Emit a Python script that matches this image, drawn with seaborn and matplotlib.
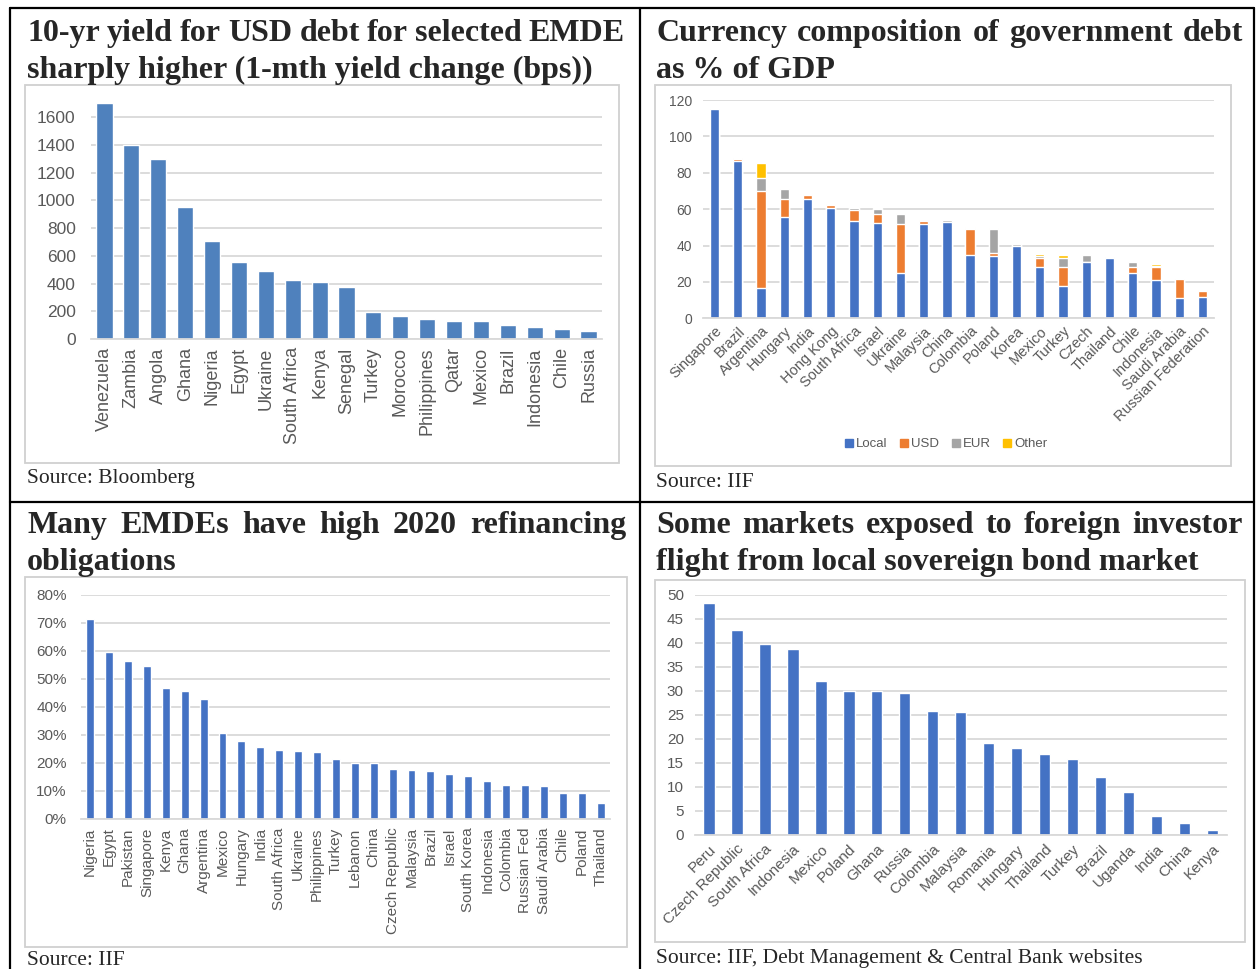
import numpy as np
import pandas as pd
import matplotlib
matplotlib.use("Agg")
import matplotlib.pyplot as plt
from matplotlib.patches import Rectangle
from matplotlib.lines import Line2D
import seaborn as sns

# ---------------- data ----------------
yield_countries = ["Venezuela", "Zambia", "Angola", "Ghana", "Nigeria", "Egypt", "Ukraine",
                   "South Africa", "Kenya", "Senegal", "Turkey", "Morocco", "Philippines",
                   "Qatar", "Mexico", "Brazil", "Indonesia", "Chile", "Russia"]
yield_change_bps = [1700, 1400, 1300, 955, 710, 555, 492, 425, 413, 377, 197, 166, 146,
                    129, 129, 103, 86, 74, 57]

debt_countries = ["Singapore", "Brazil", "Argentina", "Hungary", "India", "Hong Kong",
                  "South Africa", "Israel", "Ukraine", "Malaysia", "China", "Colombia",
                  "Poland", "Korea", "Mexico", "Turkey", "Czech", "Thailand", "Chile",
                  "Indonesia", "Saudi Arabia", "Russian Federation"]
debt_local = [115, 86.5, 16.5, 55.5, 65.7, 60.6, 53.5, 52.6, 24.9, 51.8, 53.0, 34.6,
              34.2, 39.9, 28.2, 17.6, 30.9, 33.3, 24.9, 20.9, 11.2, 11.9]
debt_usd = [0, 1.0, 53.5, 10.2, 2.2, 1.7, 6.0, 4.7, 26.9, 1.5, 0, 14.5,
            1.9, 0, 5.1, 10.4, 0, 0.3, 3.5, 7.3, 10.4, 3.1]
debt_eur = [0, 0.5, 7.0, 5.2, 0, 0, 1.3, 2.8, 5.7, 0, 0.9, 0.7,
            13.2, 0.8, 1.1, 5.3, 3.7, 0, 2.4, 0.7, 0, 0.3]
debt_other = [0, 0, 8.5, 0.4, 0.5, 0.5, 0.4, 0.6, 0.5, 0.7, 0, 0.3,
              0.5, 0, 0.9, 1.5, 0.3, 0, 0, 0.9, 0, 0]
currency_names = ["Local", "USD", "EUR", "Other"]

refi_countries = ["Nigeria", "Egypt", "Pakistan", "Singapore", "Kenya", "Ghana", "Argentina",
                  "Mexico", "Hungary", "India", "South Africa", "Ukraine", "Philippines",
                  "Turkey", "Lebanon", "China", "Czech Republic", "Malaysia", "Brazil",
                  "Israel", "South Korea", "Indonesia", "Colombia", "Russian Fed",
                  "Saudi Arabia", "Chile", "Poland", "Thailand"]
refi_share_pct = [71.3, 59.6, 56.3, 54.5, 46.8, 45.6, 42.8, 30.8, 27.8, 25.6, 24.6, 24.3,
                  24.0, 21.3, 19.9, 19.9, 17.8, 17.5, 17.2, 16.0, 15.4, 13.4, 12.1, 12.1,
                  11.8, 9.3, 9.3, 5.7]

foreign_countries = ["Peru", "Czech Republic", "South Africa", "Indonesia", "Mexico", "Poland",
                     "Ghana", "Russia", "Colombia", "Malaysia", "Romania", "Hungary",
                     "Thailand", "Turkey", "Brazil", "Uganda", "India", "China", "Kenya"]
foreign_share = [48.2, 42.7, 39.7, 38.6, 32.0, 30.0, 30.0, 29.5, 25.7, 25.5, 19.1, 18.2,
                 16.8, 15.8, 12.1, 8.9, 4.0, 2.6, 1.0]

titles = {
    "tl": ["10-yr yield for USD debt for selected EMDE", "sharply higher (1-mth yield change (bps))"],
    "tr": ["Currency composition of government debt", "as % of GDP"],
    "bl": ["Many EMDEs have high 2020 refinancing", "obligations"],
    "br": ["Some markets exposed to foreign investor", "flight from local sovereign bond market"],
}
sources = {
    "tl": "Source: Bloomberg",
    "tr": "Source: IIF",
    "bl": "Source: IIF",
    "br": "Source: IIF, Debt Management & Central Bank websites",
}

# ---------------- style ----------------
sns.set_style("white")
plt.rcParams["font.family"] = ["Liberation Sans", "DejaVu Sans"]

W, H = 1256, 969
fig = plt.figure(figsize=(W / 100, H / 100), dpi=100)

GRID = "#d9d9d9"
TXT = "#595959"
BOX = "#d0d0d0"
C_LOCAL, C_USD, C_EUR, C_OTHER = "#4472C4", "#ED7D31", "#A5A5A5", "#FFC000"
SERIF = ["Liberation Serif", "DejaVu Serif"]


def fx(x):
    return x / W


def fy(y):
    return 1 - y / H


def add_ax(x0, y0, x1, y1):
    return fig.add_axes([fx(x0), fy(y1), (x1 - x0) / W, (y1 - y0) / H])


def box(x0, y0, x1, y1):
    fig.patches.append(Rectangle((fx(x0), fy(y1)), (x1 - x0) / W, (y1 - y0) / H,
                                 transform=fig.transFigure, fill=False,
                                 edgecolor=BOX, lw=1.3, zorder=0))


def hline(x0, x1, y):
    fig.add_artist(Line2D([fx(x0), fx(x1)], [fy(y), fy(y)], transform=fig.transFigure,
                          color="black", lw=1.6))


def vline(x, y0, y1):
    fig.add_artist(Line2D([fx(x), fx(x)], [fy(y0), fy(y1)], transform=fig.transFigure,
                          color="black", lw=1.6))


renderer = fig.canvas.get_renderer()


def justified(line, x0, x1, y, **kw):
    words = line.split()
    arts = [fig.text(0, fy(y), w, va="baseline", ha="left", **kw) for w in words]
    widths = [a.get_window_extent(renderer).width for a in arts]
    gap = ((x1 - x0) - sum(widths)) / (len(words) - 1)
    x = x0
    for a, w in zip(arts, widths):
        a.set_x(fx(x))
        x += w + gap


def title(key, x0, x1, y):
    l1, l2 = titles[key]
    justified(l1, x0, x1, y, family=SERIF, fontweight="bold", fontsize=23)
    fig.text(fx(x0), fy(y + 37), l2, va="baseline", ha="left",
             family=SERIF, fontweight="bold", fontsize=23)


def style_axes(ax, ticks, labels, ysize, xsize, ypad, xpad, rot):
    ax.set_yticks(ticks)
    ax.set_yticklabels(labels, fontsize=ysize, color=TXT)
    for s in ["top", "right", "left"]:
        ax.spines[s].set_visible(False)
    ax.spines["bottom"].set_color(GRID)
    ax.spines["bottom"].set_linewidth(1.3)
    ax.yaxis.grid(True, color=GRID, lw=1.3)
    ax.xaxis.grid(False)
    ax.set_axisbelow(True)
    ax.tick_params(axis="y", length=0, pad=ypad)
    ax.tick_params(axis="x", length=0, pad=xpad)
    ax.set_xlabel("")
    ax.set_ylabel("")
    if rot == 90:
        for t in ax.get_xticklabels():
            t.set_rotation(90)
            t.set_fontsize(xsize)
            t.set_color(TXT)
            t.set_ha("center")
            t.set_va("top")
    else:
        for t in ax.get_xticklabels():
            t.set_rotation(45)
            t.set_fontsize(xsize)
            t.set_color(TXT)
            t.set_ha("right")
            t.set_va("top")
            t.set_rotation_mode("anchor")


# ---------------- frame ----------------
hline(10, 1254, 8)
hline(10, 1254, 502)
vline(10, 8, 969)
vline(640, 8, 969)
vline(1254, 8, 969)

# ---------------- top-left ----------------
title("tl", 27, 625, 41)
box(25, 85, 619, 463)
ax1 = add_ax(91, 95, 602, 339)
sns.barplot(x=yield_countries, y=yield_change_bps, order=yield_countries, color="#4F81BD",
            saturation=1, width=0.6, ax=ax1)
ax1.set_ylim(0, 1760)
t1 = list(range(0, 1601, 200))
style_axes(ax1, t1, [str(v) for v in t1], 12.5, 13, 11, 6, 90)
fig.text(fx(27), fy(483), sources["tl"], family=SERIF, fontsize=15.5, va="baseline")

# ---------------- top-right ----------------
title("tr", 656, 1243, 41)
box(655, 85, 1231, 466)
ax2 = add_ax(703, 100, 1214, 318.3)
total_other = np.array(debt_local) + np.array(debt_usd) + np.array(debt_eur) + np.array(debt_other)
total_eur = np.array(debt_local) + np.array(debt_usd) + np.array(debt_eur)
total_usd = np.array(debt_local) + np.array(debt_usd)
total_local = np.array(debt_local)
for vals, col in [(total_other, C_OTHER), (total_eur, C_EUR), (total_usd, C_USD),
                  (total_local, C_LOCAL)]:
    sns.barplot(x=debt_countries, y=vals, order=debt_countries, color=col, saturation=1,
                width=0.4, ax=ax2)
ax2.set_ylim(0, 120)
t2 = list(range(0, 121, 20))
style_axes(ax2, t2, [str(v) for v in t2], 10, 10.5, 8, 4, 45)
handles = [Line2D([], [], marker="s", ls="", color=c, markersize=6)
           for c in [C_LOCAL, C_USD, C_EUR, C_OTHER]]
fig.legend(handles, currency_names, loc="center", bbox_to_anchor=(fx(946), fy(444)),
           ncol=4, frameon=False, fontsize=9.5, handlelength=0.7, handletextpad=0.2,
           columnspacing=0.9, labelcolor=TXT)
fig.text(fx(656), fy(487), sources["tr"], family=SERIF, fontsize=15.5, va="baseline")

# ---------------- bottom-left ----------------
title("bl", 27, 626, 533)
box(25, 577, 627, 947)
ax3 = add_ax(80.7, 594.7, 610, 819)
sns.barplot(x=refi_countries, y=refi_share_pct, order=refi_countries, color=C_LOCAL,
            saturation=1, width=0.42, ax=ax3)
ax3.set_ylim(0, 80)
t3 = list(range(0, 81, 10))
style_axes(ax3, t3, [f"{v}%" for v in t3], 11, 11, 10, 6, 90)
fig.text(fx(27), fy(965), sources["bl"], family=SERIF, fontsize=15.5, va="baseline")

# ---------------- bottom-right ----------------
title("br", 656, 1243, 533)
box(655, 580, 1245, 942)
ax4 = add_ax(695, 594.7, 1226.7, 835)
sns.barplot(x=foreign_countries, y=foreign_share, order=foreign_countries, color=C_LOCAL,
            saturation=1, width=0.4, ax=ax4)
ax4.set_ylim(0, 50)
t4 = list(range(0, 51, 5))
style_axes(ax4, t4, [str(v) for v in t4], 11, 11, 8, 5, 45)
fig.text(fx(656), fy(963), sources["br"], family=SERIF, fontsize=15.5, va="baseline")

fig.savefig("out.png", dpi=100)
